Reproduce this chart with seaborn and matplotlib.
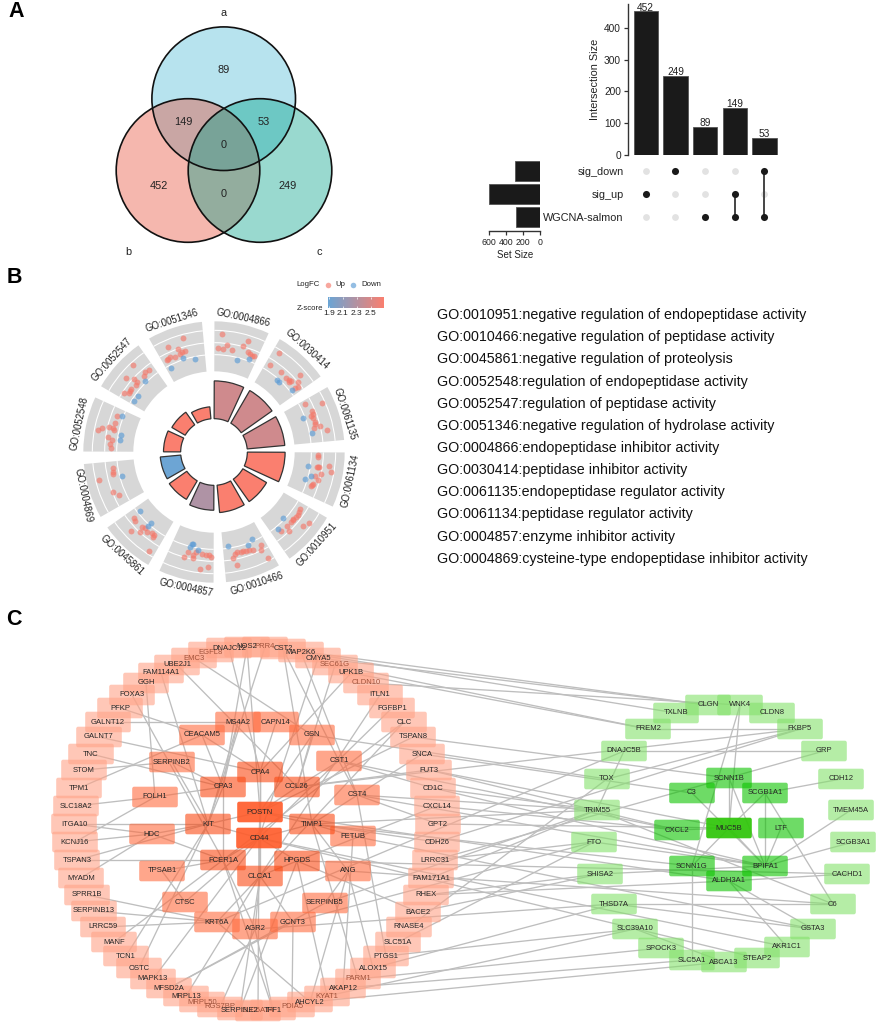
import numpy as np
import pandas as pd
import matplotlib
matplotlib.use("Agg")
import matplotlib.pyplot as plt
from matplotlib.patches import Circle, Wedge, FancyBboxPatch
from matplotlib.colors import LinearSegmentedColormap, to_rgba
from matplotlib.collections import LineCollection
import seaborn as sns

W, H = 886, 1029
sns.set_theme(style="white")
plt.rcParams["font.family"] = ["Liberation Sans", "DejaVu Sans"]
TXT = "#222222"

# ---------------- panel A data
venn_sets = ["a", "b", "c"]
venn_regions = ["89", "149", "53", "0", "452", "0", "249"]
intersection_sizes = [452, 249, 89, 149, 53]
set_names = ["sig_down", "sig_up", "WGCNA-salmon"]
set_sizes = [302, 601, 291]
membership = [[1], [0], [2], [1, 2], [0, 2]]

# ---------------- panel B data
go_terms = ["GO:0004866", "GO:0030414", "GO:0061135", "GO:0061134", "GO:0010951", "GO:0010466",
            "GO:0004857", "GO:0045861", "GO:0004869", "GO:0052548", "GO:0052547", "GO:0051346"]
go_counts = [22, 22, 22, 22, 16, 16, 14.5, 12.5, 12, 10, 9, 7]
go_zscores = [2.44, 2.44, 2.44, 2.68, 2.68, 2.68, 2.26, 2.68, 1.89, 2.68, 2.68, 2.68]
go_desc = ["GO:0010951:negative regulation of endopeptidase activity",
           "GO:0010466:negative regulation of peptidase activity",
           "GO:0045861:negative regulation of proteolysis",
           "GO:0052548:regulation of endopeptidase activity",
           "GO:0052547:regulation of peptidase activity",
           "GO:0051346:negative regulation of hydrolase activity",
           "GO:0004866:endopeptidase inhibitor activity",
           "GO:0030414:peptidase inhibitor activity",
           "GO:0061135:endopeptidase regulator activity",
           "GO:0061134:peptidase regulator activity",
           "GO:0004857:enzyme inhibitor activity",
           "GO:0004869:cysteine-type endopeptidase inhibitor activity"]
genes_up = [
 (666,206),(654,248),(668,252),(682,240),(697,254),(730,243),(743,229),(745,262),(750,268),(756,272),(762,274),
 (838,263),(810,299),(844,320),(858,340),(868,344),(872,348),(866,350),(900,330),(895,352),(893,365),(884,368),
 (967,415),(916,416),(935,437),(938,446),(932,452),(938,458),(945,478),(942,488),(960,482),(982,494),(945,470),
 (953,570),(955,577),(953,605),(958,607),(950,607),(986,602),(993,622),(963,628),(945,634),(954,646),(936,660),(938,656),(933,662),
 (900,733),(898,742),(893,750),(887,757),(878,765),(874,772),(880,762),(860,783),(843,797),(868,798),(909,782),(928,773),
 (784,839),(784,856),(760,855),(748,856),(738,858),(730,858),(722,862),(712,862),(704,866),(700,880),(805,878),(710,900),
 (565,860),(587,862),(580,870),(578,880),(552,875),(617,869),(628,870),(632,876),(624,906),(600,913),(605,868),
 (402,760),(404,768),(394,799),(420,800),(426,787),(436,788),(440,800),(455,805),(462,810),(458,817),(447,858),
 (339,610),(340,622),(340,628),(298,646),(339,682),(358,690),
 (350,452),(346,474),(326,485),(340,490),(343,495),(305,488),(293,496),(325,517),(335,524),(330,538),(333,550),
 (400,301),(448,315),(436,320),(432,333),(377,340),(402,342),(410,352),(408,360),(394,373),(390,378),(386,385),(372,384),
 (548,218),(504,245),(535,252),(545,260),(555,258),(540,268),(525,275),(510,275),(504,282),(500,286)]
genes_down = [(712,284),(748,283),(830,345),(838,352),(876,376),(908,458),(936,505),(925,603),(933,632),(916,641),
 (848,760),(833,791),(684,844),(756,823),(745,840),(575,836),(570,845),(580,838),(593,855),(420,739),(453,773),(444,783),
 (367,633),(366,452),(362,511),(360,526),(435,347),(415,392),(402,407),(550,278),(586,281),(513,308)]

# ---------------- panel C data
net_left = [
 ("GGH",146,683,2),("FOXA3",132,695,2),("PFKP",120,708,2),("GALNT12",108,722,2),("GALNT7",99,737,2),("TNC",91,754,2),
 ("STOM",84,770,2),("TPM1",79,788,2),("SLC18A2",76,806,2),("ITGA10",74,824,2),("KCNJ16",75,842,2),("TSPAN3",77,860,2),
 ("MYADM",81,878,2),("SPRR1B",87,895,2),("SERPINB13",94,911,2),("LRRC59",103,927,2),("MANF",114,942,2),("TCN1",126,956,2),
 ("OSTC",139,968,2),("MAPK13",153,979,2),("MFSD2A",169,988,2),("MRPL13",186,996,2),("MRPL50",202,1002,2),("RGS7BP",220,1007,2),
 ("SLC6A14",258,1011,2),("SERPINE2",240,1010,2),("TFF1",273,1010,2),("PDIA5",292,1007,2),("AHCYL2",310,1002,2),("KYAT1",327,996,2),
 ("AKAP12",343,988,2),("PARM1",358,979,2),("ALOX15",373,968,2),("PTGS1",386,956,2),("SLC51A",398,942,2),("RNASE4",409,927,2),
 ("BACE2",418,912,2),("RHEX",426,895,2),("FAM171A1",431,878,2),("LRRC31",435,860,2),("CDH26",437,842,2),("GPT2",438,824,2),
 ("CXCL14",437,806,2),("CD1C",433,788,2),("FUT3",429,770,2),("SNCA",422,754,2),("TSPAN8",413,737,2),("CLC",404,722,2),
 ("FGFBP1",392,708,2),("ITLN1",380,695,2),("CLDN10",366,683,2),("UPK1B",351,673,2),("SEC61G",335,665,2),("CMYA5",318,658,2),
 ("MAP2K6",301,652,2),("CST2",283,649,2),("PRR4",265,647,2),("EGFL8",211,652,2),("DNAJC12",229,648,2),("NOS2",247,647,2),
 ("EMC3",194,658,2),("UBE2J1",177,665,2),("FAM114A1",161,673,2),
 ("CEACAM5",202,735,6),("SERPINB2",172,762,6),("FOLH1",155,797,6),("HDC",152,834,6),("TPSAB1",162,871,6),("CTSC",185,902,6),
 ("KRT6A",217,922,6),("AGR2",255,929,6),("GCNT3",293,922,6),("SERPINB5",325,903,6),("ANG",348,871,6),("FETUB",353,836,6),
 ("CST4",357,795,6),("CST1",339,761,6),("GSN",312,735,6),("CAPN14",276,722,6),("MS4A2",238,722,6),
 ("CPA3",223,787,8),("KIT",208,824,8),("FCER1A",223,860,8),("CLCA1",260,876,8),("HPGDS",297,861,8),("TIMP1",312,824,8),
 ("CCL26",297,787,8),("CPA4",260,772,8),("POSTN",260,812,10),("CD44",259,838,10)]
net_right = [
 ("CLGN",708,705,2),("WNK4",740,705,2),("TXLNB",676,713,2),("CLDN8",772,713,2),("FREM2",648,729,2),("FKBP5",800,729,2),
 ("DNAJC5B",624,751,2),("GRP",824,751,2),("TOX",607,779,2),("CDH12",841,779,2),("TRIM55",597,810,2),("TMEM45A",851,810,2),
 ("FTO",594,842,2),("SCGB3A1",853,842,2),("SHISA2",600,874,2),("CACHD1",847,874,2),("THSD7A",614,904,2),("C6",833,904,2),
 ("SLC39A10",635,929,2),("GSTA3",813,929,2),("SPOCK3",661,948,2),("AKR1C1",787,947,2),("SLC5A1",692,960,2),("ABCA13",724,962,2),
 ("STEAP2",757,958,2),
 ("C3",692,793,6),("SCNN1B",729,778,6),("SCGB1A1",765,793,6),("CXCL2",677,830,6),("LTF",781,828,6),("SCNN1G",692,866,6),
 ("BPIFA1",765,866,6),("ALDH3A1",729,881,6),("MUC5B",729,828,10)]
tinted_labels = ["EGFL8", "PRR4", "SEC61G", "MRPL50", "RGS7BP", "EMC3", "SLC6A14", "PDIA5", "CLDN10", "PARM1", "KYAT1"]
net_edges = """POSTN-CD44 POSTN-CPA4 CD44-CLCA1 CPA4-CLCA1 POSTN-KIT CD44-KIT CD44-FCER1A CD44-HPGDS CD44-TIMP1 POSTN-TIMP1 POSTN-CCL26
FCER1A-CPA3 KIT-CPA3 KIT-HDC FOLH1-CPA3 HDC-FCER1A TPSAB1-FCER1A CTSC-TPSAB1 CTSC-CD44 KRT6A-CLCA1 AGR2-CLCA1 GCNT3-CLCA1 AGR2-FCER1A
CLCA1-HPGDS ANG-TIMP1 ANG-SERPINB5 FETUB-TIMP1 CST1-CST4 CST1-CCL26 GSN-CCL26 CAPN14-CPA4 MS4A2-CPA3 MS4A2-KIT CEACAM5-CPA3 SERPINB2-KIT
SERPINB2-CPA3 CEACAM5-CPA4 GSN-POSTN GGH-FOLH1 FOXA3-FCER1A FAM114A1-KIT PFKP-CEACAM5 GALNT12-MS4A2 GALNT7-CPA4 TNC-CPA3 STOM-SERPINB2
TPM1-CEACAM5 SLC18A2-FOLH1 ITGA10-KIT ITGA10-HDC KCNJ16-HDC KCNJ16-FOLH1 TSPAN3-KIT TSPAN3-FCER1A MYADM-HDC SPRR1B-KRT6A SERPINB13-KRT6A
LRRC59-KRT6A MANF-FCER1A TCN1-KIT OSTC-KIT MAPK13-CD44 MFSD2A-SERPINB5 MRPL13-CLCA1 MFSD2A-GCNT3 UBE2J1-CCL26 DNAJC12-CPA4 EMC3-GSN
NOS2-POSTN NOS2-CPA3 PRR4-KIT CST2-CST1 CST2-TIMP1 MAP2K6-CST4 CMYA5-CD44 SEC61G-CCL26 UPK1B-CPA4 ITLN1-CLCA1 FGFBP1-CD44 CLC-FCER1A CLC-CLCA1
TSPAN8-POSTN SNCA-TIMP1 FUT3-CCL26 CD1C-CST1 CXCL14-HPGDS GPT2-CST4 CDH26-TIMP1 SERPINE2-CLCA1 SERPINE2-HPGDS TFF1-AGR2 TFF1-FCER1A PDIA5-GCNT3
AHCYL2-KRT6A AHCYL2-ANG RGS7BP-AGR2 SLC6A14-CD44 PTGS1-CST4 ALOX15-ANG PARM1-TIMP1 AKAP12-FETUB KYAT1-HPGDS BACE2-HPGDS
CST2-CLGN MAP2K6-TXLNB CMYA5-CLGN SEC61G-FREM2 UPK1B-FREM2 CLDN10-WNK4 GSN-TOX TSPAN8-SCNN1B SNCA-C3 CST1-CXCL2 FUT3-MUC5B CD1C-TRIM55
CXCL14-CXCL2 GPT2-MUC5B CST4-TRIM55 CST4-BPIFA1 TIMP1-SCNN1G CDH26-FKBP5 LRRC31-GRP FAM171A1-TRIM55 RHEX-SHISA2 BACE2-SHISA2 RNASE4-TOX SLC51A-FTO
PTGS1-SLC39A10 ALOX15-THSD7A PARM1-SPOCK3 AKAP12-SLC5A1 KYAT1-SLC39A10 AHCYL2-ABCA13 SERPINB5-TRIM55 GCNT3-FTO AGR2-THSD7A ANG-C6 FETUB-GSTA3
HPGDS-CACHD1 KRT6A-DNAJC5B POSTN-ALDH3A1 CD44-AKR1C1 CD44-STEAP2 CCL26-FKBP5 TIMP1-TRIM55 CD1C-BPIFA1 FUT3-CXCL2 LRRC31-FTO RHEX-ALDH3A1
WNK4-SCNN1G WNK4-MUC5B SCNN1B-BPIFA1 SCNN1B-MUC5B C3-BPIFA1 SCGB1A1-BPIFA1 SCGB1A1-C6 SCGB1A1-MUC5B CDH12-SCGB1A1 TMEM45A-BPIFA1 SCGB3A1-BPIFA1
CACHD1-ALDH3A1 ALDH3A1-AKR1C1 ALDH3A1-GSTA3 SCNN1G-SLC5A1 DNAJC5B-TRIM55 LTF-BPIFA1 MUC5B-BPIFA1 MUC5B-SCNN1G CXCL2-MUC5B TOX-FKBP5 DNAJC5B-GRP
FREM2-FKBP5 THSD7A-C6 THSD7A-GSTA3 SHISA2-BPIFA1 TRIM55-C6 FTO-BPIFA1 SLC39A10-ABCA13""".split()

# ---------------- helpers
fig = plt.figure(figsize=(W / 100, H / 100), dpi=100)
def px_axes(l, t, r, b):
    a = fig.add_axes([l / W, 1 - b / H, (r - l) / W, (b - t) / H])
    a.patch.set_alpha(0)
    return a

canvas = fig.add_axes([0, 0, 1, 1])
canvas.set_xlim(0, W); canvas.set_ylim(H, 0); canvas.axis("off")

for t, x, y in [("A", 8, 17), ("B", 7, 283), ("C", 6, 625)]:
    canvas.text(x, y, t, fontsize=15.5, fontweight="bold", color="black", va="baseline")

# ---------------- Venn
venn_geom = [(223.7, 98.7, "#4DBBD5"), (188, 170.5, "#E64B35"), (260, 170.5, "#00A087")]
for cx, cy, col in venn_geom:
    canvas.add_patch(Circle((cx, cy), 71.8, fc=to_rgba(col, 0.4), ec="none"))
for cx, cy, col in venn_geom:
    canvas.add_patch(Circle((cx, cy), 71.8, fc="none", ec="#111111", lw=1.2))
for lab, (x, y) in zip(venn_sets, [(223.5, 13), (128.7, 252), (319, 252)]):
    canvas.text(x, y, lab, fontsize=7.9, ha="center", va="center", color=TXT)
for lab, (x, y) in zip(venn_regions, [(224, 70), (183.5, 122), (264, 122), (224, 145), (158.7, 186), (224, 194), (288, 186)]):
    canvas.text(x, y, lab, fontsize=7.9, ha="center", va="center", color=TXT)

# ---------------- UpSet bars
ax_bar = px_axes(627.9, 4, 782.3, 155)
sns.barplot(x=list(range(5)), y=intersection_sizes, color="#1a1a1a", saturation=1, width=0.82,
            edgecolor="#555555", linewidth=0.6, ax=ax_bar)
ax_bar.set_xlim(-0.6, 4.6); ax_bar.set_ylim(0, 475.5)
ax_bar.set_xticks([]); ax_bar.set_yticks([0, 100, 200, 300, 400])
sns.despine(ax=ax_bar, bottom=True)
ax_bar.spines["left"].set_color("#333333"); ax_bar.spines["left"].set_linewidth(1)
ax_bar.tick_params(axis="y", left=True, length=3, width=0.9, color="#333333", labelsize=7.3, labelcolor=TXT, pad=2)
ax_bar.set_ylabel("Intersection Size", fontsize=7.8, color=TXT, labelpad=3)
for i, v in enumerate(intersection_sizes):
    ax_bar.text(i, v - 4, str(v), fontsize=7.3, ha="center", va="bottom", color=TXT)

# ---------------- UpSet matrix
ax_mat = px_axes(627.9, 159.5, 782.3, 231)
rows = [(i, r) for i in range(5) for r in range(3)]
df_m = pd.DataFrame(rows, columns=["inter", "row"])
df_m["on"] = [r in membership[i] for i, r in rows]
sns.scatterplot(data=df_m[~df_m.on], x="inter", y="row", color="#E2E2E2", s=24, linewidth=0, legend=False, ax=ax_mat)
for i, m in enumerate(membership):
    if len(m) > 1:
        ax_mat.plot([i, i], [min(m), max(m)], color="#444444", lw=1.4, zorder=1)
sns.scatterplot(data=df_m[df_m.on], x="inter", y="row", color="#1a1a1a", s=26, linewidth=0, legend=False, ax=ax_mat, zorder=3)
ax_mat.set_xlim(-0.6, 4.6); ax_mat.set_ylim(2.61, -0.5)
ax_mat.set_xticks([]); ax_mat.set_xlabel(""); ax_mat.set_ylabel("")
ax_mat.set_yticks(range(3)); ax_mat.set_yticklabels(set_names)
ax_mat.tick_params(axis="y", length=0, labelsize=7.8, labelcolor=TXT, pad=3)
sns.despine(ax=ax_mat, left=True, bottom=True)

# ---------------- set size
ax_set = px_axes(489.3, 159.5, 540.3, 231)
sns.barplot(y=set_names, x=set_sizes, order=set_names, color="#1a1a1a", saturation=1, width=0.83,
            edgecolor="#555555", linewidth=0.6, ax=ax_set)
ax_set.set_xlim(600, 0); ax_set.set_ylim(2.61, -0.5)
ax_set.set_yticks([]); ax_set.set_ylabel("")
ax_set.set_xticks([600, 400, 200, 0])
sns.despine(ax=ax_set, left=True)
ax_set.spines["bottom"].set_color("#333333"); ax_set.spines["bottom"].set_linewidth(1)
ax_set.tick_params(axis="x", bottom=True, length=3, width=0.9, color="#333333", labelsize=6.3, labelcolor=TXT, pad=2)
ax_set.set_xlabel("Set Size", fontsize=7, color=TXT, labelpad=2)

# ---------------- GO circle (axis units are read-off units of the picture)
ax_go = px_axes(83, 321, 345, 583)
ax_go.set_xlim(249, 1035); ax_go.set_ylim(954, 168); ax_go.axis("off")
centre = (642, 561)
z_cmap = LinearSegmentedColormap.from_list("z", ["#6BA5D5", "#FA7F6F"])
z_lo, z_hi = 1.88, 2.68
span = 24.5
label_pos = [(730,157,-12),(920,253,-42),(1035,447,-72),(1050,647,78),(950,838,48),(772,955,18),
             (557,968,-12),(365,870,-42),(250,690,-78),(238,475,78),(335,285,48),(515,168,18)]
for i, (term, cnt, z) in enumerate(zip(go_terms, go_counts, go_zscores)):
    a0 = 30 * i + 0.2 - 90
    a1 = a0 + span
    ax_go.add_patch(Wedge(centre, 392, a0, a1, width=150, fc="#D7D7D7", ec="none", clip_on=False))
    for r in (292, 328, 365):
        ax_go.add_patch(Wedge(centre, r + 1.6, a0, a1, width=3.2, fc="white", ec="none", clip_on=False))
    ax_go.add_patch(Wedge(centre, 100 + cnt * 5.15, a0, a1, width=cnt * 5.15,
                          fc=z_cmap((z - z_lo) / (z_hi - z_lo)), ec="#333333", lw=0.9, clip_on=False))
    x, y, rot = label_pos[i]
    ax_go.text(x, y, term, rotation=rot, rotation_mode="anchor", ha="center", va="center", fontsize=6.9, color=TXT)
up = np.array(genes_up); down = np.array(genes_down)
sns.scatterplot(x=up[:, 0], y=up[:, 1], color="#F4796B", alpha=0.65, s=18, linewidth=0, legend=False, ax=ax_go, zorder=4)
sns.scatterplot(x=down[:, 0], y=down[:, 1], color="#5B9BD5", alpha=0.65, s=18, linewidth=0, legend=False, ax=ax_go, zorder=4)
ax_go.set_xlim(249, 1035); ax_go.set_ylim(954, 168)

# GO legend
canvas.text(308.5, 284.7, "LogFC", fontsize=5.6, ha="center", va="center", color=TXT)
canvas.scatter([328.3], [284.7], s=16, c="#F4796B", alpha=0.65, linewidths=0)
canvas.text(340.7, 284.7, "Up", fontsize=5.6, ha="center", va="center", color=TXT)
canvas.scatter([353.3], [284.7], s=16, c="#5B9BD5", alpha=0.65, linewidths=0)
canvas.text(371, 284.7, "Down", fontsize=5.6, ha="center", va="center", color=TXT)
canvas.text(310, 308.3, "Z-score", fontsize=5.6, ha="center", va="center", color=TXT)
ax_cb = px_axes(327.7, 297, 383, 308)
ax_cb.imshow(np.linspace(0, 1, 200)[None, :], cmap=z_cmap, aspect="auto", extent=[z_lo, z_hi, 0, 1])
z_ticks = [1.9, 2.1, 2.3, 2.5]
ax_cb.set_xticks(z_ticks); ax_cb.set_xticklabels([str(t) for t in z_ticks]); ax_cb.set_yticks([])
ax_cb.tick_params(axis="x", length=0, labelsize=6, labelcolor=TXT, pad=1.5)
ax_cb.grid(False)
for s in ax_cb.spines.values():
    s.set_visible(False)
ax_cb.vlines(z_ticks, 0, 0.2, color="white", lw=0.5)
ax_cb.vlines(z_ticks, 0.8, 1, color="white", lw=0.5)

# GO text block
for txt, y in zip(go_desc, [315, 337, 359, 382, 404, 426, 448, 470, 492, 514, 537, 559]):
    canvas.text(437, y, txt, fontsize=10.25, va="center", ha="left", color="#111111")

# ---------------- network
left_tiers = {2: ("#FFA387", 0.6), 6: ("#FF6B3E", 0.6), 8: ("#FA4A14", 0.6), 10: ("#FF5A28", 0.9)}
right_tiers = {2: ("#84E16B", 0.6), 6: ("#0DC300", 0.6), 10: ("#33C60E", 0.95)}
pos = {n: (x, y) for n, x, y, _ in net_left + net_right}
segs = [(pos[e.split("-", 1)[0]], pos[e.split("-", 1)[1]]) for e in net_edges]
canvas.add_collection(LineCollection(segs, colors="#BEBEBE", linewidths=0.95, zorder=2))

z = 3
for nodes, tiers in ((net_left, left_tiers), (net_right, right_tiers)):
    for name, x, y, deg in nodes:
        col, alp = tiers[deg]
        canvas.add_patch(FancyBboxPatch((x - 22.8, y - 10.3), 45.6, 20.6, boxstyle="round,pad=0,rounding_size=2",
                                        fc=to_rgba(col, alp), ec="none", zorder=z))
        z += 1
for name, x, y, deg in net_left + net_right:
    col = "#A0533C" if name in tinted_labels else "#262626"
    canvas.text(x, y, name, fontsize=5.5, ha="center", va="center", color=col, zorder=z)

fig.savefig("out.png", dpi=100, facecolor="white")
